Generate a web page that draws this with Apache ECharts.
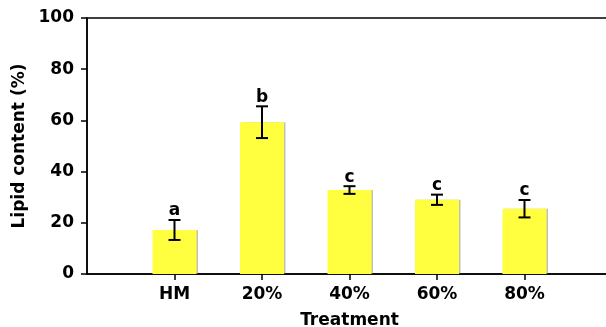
<!DOCTYPE html>
<html>
<head>
<meta charset="utf-8">
<script src="https://cdn.jsdelivr.net/npm/echarts@6/dist/echarts.min.js"></script>
<style>
  html, body { margin: 0; padding: 0; background: #fff; }
  #chart { width: 606px; height: 327px; }
</style>
</head>
<body>
<div id="chart"></div>
<script>
// Lipid content per treatment (mean, SD) with significance letters
const treatments = ['HM', '20%', '40%', '60%', '80%'];
const lipidMean = [17.2, 59.3, 32.8, 29.0, 25.5];
const lipidSD = [3.9, 6.2, 1.5, 2.0, 3.4];
const groupLetters = ['a', 'b', 'c', 'c', 'c'];
const yTicks = [0, 20, 40, 60, 80, 100];

// Pad the category axis with an empty slot on each side
const cats = [''].concat(treatments, ['']);
const barData = ['-'].concat(lipidMean, ['-']);
const errData = treatments.map((t, i) => [i + 1, lipidMean[i] - lipidSD[i], lipidMean[i] + lipidSD[i], groupLetters[i]]);

const FONT = 'DejaVu Sans';
const chart = echarts.init(document.getElementById('chart'), null, { renderer: 'canvas' });

chart.setOption({
  animation: false,
  backgroundColor: '#fff',
  grid: {
    left: 87, top: 18, width: 525, height: 256,
    containLabel: false,
    outerBoundsMode: 'none',
    show: true, borderColor: '#000', borderWidth: 1.5, backgroundColor: 'transparent'
  },
  xAxis: {
    type: 'category',
    data: cats,
    boundaryGap: false,
    name: 'Treatment',
    nameLocation: 'middle',
    nameGap: 38,
    nameTextStyle: { fontFamily: FONT, fontWeight: 'bold', fontSize: 17, color: '#000' },
    axisLine: { lineStyle: { color: '#000', width: 1.5 } },
    axisTick: { length: 6, lineStyle: { color: '#000', width: 1.5 }, interval: (i, v) => v !== '' },
    axisLabel: { margin: 12, fontFamily: FONT, fontWeight: 'bold', fontSize: 17, color: '#000', interval: 0 },
    splitLine: { show: false }
  },
  yAxis: {
    type: 'value',
    min: yTicks[0], max: yTicks[yTicks.length - 1], interval: 20,
    name: 'Lipid content (%)',
    nameLocation: 'middle',
    nameGap: 58,
    nameTextStyle: { fontFamily: FONT, fontWeight: 'bold', fontSize: 17, color: '#000' },
    axisLine: { show: true, lineStyle: { color: '#000', width: 1.5 } },
    axisTick: { show: true, length: 6, lineStyle: { color: '#000', width: 1.5 } },
    axisLabel: { margin: 13, fontFamily: FONT, fontWeight: 'bold', fontSize: 17, color: '#000' },
    splitLine: { show: false }
  },
  series: [
    {
      type: 'bar',
      data: barData,
      barWidth: 44,
      itemStyle: {
        color: '#ffff40',
        shadowColor: 'rgba(120,120,80,0.45)', shadowOffsetX: 1.5, shadowBlur: 0
      }
    },
    {
      type: 'custom',
      data: errData,
      encode: { x: 0, y: [1, 2] },
      z: 5,
      renderItem: function (params, api) {
        const x = api.value(0);
        const lo = api.coord([x, api.value(1)]);
        const hi = api.coord([x, api.value(2)]);
        const cap = 6;
        const style = { stroke: '#000', lineWidth: 2 };
        return {
          type: 'group',
          children: [
            { type: 'line', shape: { x1: lo[0], y1: lo[1], x2: hi[0], y2: hi[1] }, style },
            { type: 'line', shape: { x1: hi[0] - cap, y1: hi[1], x2: hi[0] + cap, y2: hi[1] }, style },
            { type: 'line', shape: { x1: lo[0] - cap, y1: lo[1], x2: lo[0] + cap, y2: lo[1] }, style },
            {
              type: 'text',
              style: {
                x: hi[0], y: hi[1] - 0.5,
                text: api.value(3),
                fill: '#000',
                font: 'bold 17px "DejaVu Sans"',
                align: 'center', verticalAlign: 'bottom'
              }
            }
          ]
        };
      }
    }
  ]
});
</script>
</body>
</html>
